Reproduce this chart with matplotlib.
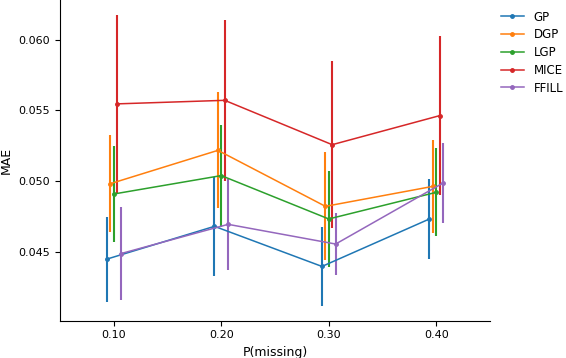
import numpy as np
import matplotlib
matplotlib.use("Agg")
import matplotlib.pyplot as plt
from matplotlib.lines import Line2D

p_missing = [0.10, 0.20, 0.30, 0.40]
x_ticks = ["0.10", "0.20", "0.30", "0.40"]
methods = ["GP", "DGP", "LGP", "MICE", "FFILL"]
colors = ["#1f77b4", "#ff7f0e", "#2ca02c", "#d62728", "#9467bd"]

# mean MAE per missing rate
gp_mae = [0.04451, 0.04682, 0.04399, 0.04734]
dgp_mae = [0.04983, 0.05218, 0.04823, 0.04964]
lgp_mae = [0.04910, 0.05040, 0.04734, 0.04922]
mice_mae = [0.05546, 0.05571, 0.05258, 0.05463]
ffill_mae = [0.04489, 0.04696, 0.04557, 0.04988]

# std of MAE
gp_std = [0.0030, 0.0035, 0.0028, 0.0028]
dgp_std = [0.0034, 0.0041, 0.0038, 0.0033]
lgp_std = [0.0034, 0.0036, 0.0034, 0.0031]
mice_std = [0.0063, 0.0057, 0.0059, 0.0056]
ffill_std = [0.0033, 0.0032, 0.0022, 0.0028]

means = [gp_mae, dgp_mae, lgp_mae, mice_mae, ffill_mae]
stds = [gp_std, dgp_std, lgp_std, mice_std, ffill_std]
offsets = [-0.0063, -0.0031, 0.0, 0.0032, 0.0064]


def main():
    fig = plt.figure(figsize=(5.66, 3.58), dpi=100)
    ax = fig.add_axes([60 / 566, 1 - 320.7 / 358, 430 / 566, 320.7 / 358])

    handles = []
    for name, c, m, s, off in zip(methods, colors, means, stds, offsets):
        x = np.array(p_missing) + off
        ax.errorbar(x, m, yerr=s, color=c, marker=".", markersize=5,
                    lw=1.1, elinewidth=1.5)
        handles.append(Line2D([], [], color=c, marker=".", markersize=5,
                              lw=1.1, label=name))

    ax.set_xlim(0.05, 0.45)
    ax.set_xticks(p_missing)
    ax.set_xticklabels(x_ticks)
    ax.set_yticks([0.045, 0.050, 0.055, 0.060])
    ax.tick_params(labelsize=8)
    ax.set_xlabel("P(missing)", fontsize=9)
    ax.set_ylabel("MAE", fontsize=9)
    ax.spines["top"].set_visible(False)
    ax.spines["right"].set_visible(False)

    ax.legend(handles=handles, loc="upper left", bbox_to_anchor=(1.0, 1.0),
              frameon=False, fontsize=8.5, labelspacing=0.4)

    fig.savefig("out.png", dpi=100)


if __name__ == "__main__":
    main()
